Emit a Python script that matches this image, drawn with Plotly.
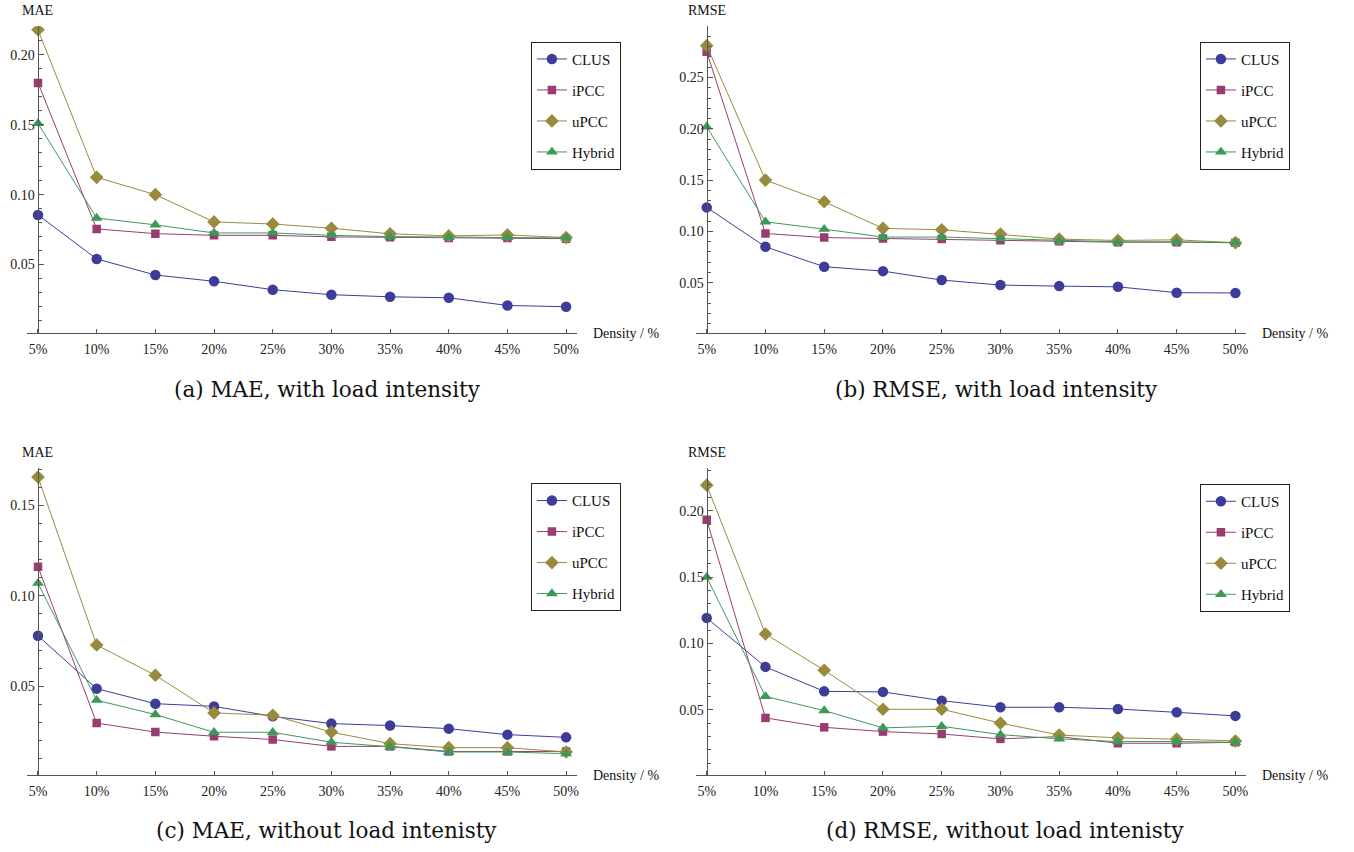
import plotly.graph_objects as go

# ---------------- data ----------------
density = [5, 10, 15, 20, 25, 30, 35, 40, 45, 50]
density_labels = ["5%", "10%", "15%", "20%", "25%", "30%", "35%", "40%", "45%", "50%"]
series_names = ["CLUS", "iPCC", "uPCC", "Hybrid"]

# (a) MAE, with load intensity
a_clus = [0.0855, 0.054, 0.0425, 0.038, 0.032, 0.0284, 0.0269, 0.0262, 0.0207, 0.0198]
a_ipcc = [0.180, 0.0755, 0.0721, 0.0709, 0.0709, 0.0698, 0.0695, 0.0690, 0.0690, 0.0685]
a_upcc = [0.218, 0.1124, 0.100, 0.0805, 0.079, 0.076, 0.072, 0.0705, 0.0712, 0.0693]
a_hyb = [0.151, 0.0833, 0.0784, 0.0726, 0.0726, 0.0709, 0.0700, 0.0695, 0.0695, 0.0690]

# (b) RMSE, with load intensity
b_clus = [0.1234, 0.085, 0.0656, 0.0613, 0.0526, 0.0477, 0.0467, 0.046, 0.0403, 0.040]
b_ipcc = [0.275, 0.098, 0.094, 0.0932, 0.0925, 0.0915, 0.0905, 0.0895, 0.0895, 0.089]
b_upcc = [0.281, 0.150, 0.1289, 0.103, 0.1016, 0.0974, 0.0925, 0.0912, 0.0918, 0.089]
b_hyb = [0.202, 0.1094, 0.1022, 0.0945, 0.0945, 0.093, 0.0908, 0.0898, 0.0898, 0.089]

# (c) MAE, without load intensity
c_clus = [0.0779, 0.0487, 0.0404, 0.0389, 0.0334, 0.0294, 0.0283, 0.0266, 0.0233, 0.0218]
c_ipcc = [0.116, 0.0297, 0.0247, 0.0224, 0.0206, 0.0168, 0.0168, 0.0140, 0.0140, 0.0140]
c_upcc = [0.1656, 0.0728, 0.0561, 0.0353, 0.034, 0.0247, 0.0183, 0.0161, 0.0161, 0.0137]
c_hyb = [0.107, 0.0423, 0.0344, 0.0246, 0.0246, 0.0191, 0.0166, 0.0137, 0.0137, 0.0128]

# (d) RMSE, without load intensity
d_clus = [0.1193, 0.0824, 0.064, 0.0636, 0.057, 0.052, 0.052, 0.0507, 0.0482, 0.0455]
d_ipcc = [0.1932, 0.044, 0.0369, 0.0337, 0.0319, 0.0282, 0.0299, 0.0249, 0.0249, 0.0256]
d_upcc = [0.2193, 0.1072, 0.0799, 0.0505, 0.0505, 0.0401, 0.0311, 0.029, 0.028, 0.0266]
d_hyb = [0.150, 0.0602, 0.0495, 0.0365, 0.0377, 0.0314, 0.0282, 0.0262, 0.0262, 0.0256]

panel_data = [
    [a_clus, a_ipcc, a_upcc, a_hyb],
    [b_clus, b_ipcc, b_upcc, b_hyb],
    [c_clus, c_ipcc, c_upcc, c_hyb],
    [d_clus, d_ipcc, d_upcc, d_hyb],
]
y_titles = ["MAE", "RMSE", "MAE", "RMSE"]
captions = [
    "(a) MAE, with load intensity",
    "(b) RMSE, with load intensity",
    "(c) MAE, without load intenisty",
    "(d) RMSE, without load intenisty",
]

# ---------------- styles ----------------
W, H = 1354, 852
colors = ["#3D3D99", "#993D71", "#998B3D", "#3D9958"]
symbols = ["circle", "square", "diamond", "triangle-up"]
msizes = [10.5, 8.5, 10.5, 10.5]
FONT = "Liberation Serif, Times New Roman, Times, serif"
CAP_FONT = "DejaVu Serif, serif"
AX = "#555555"


def px(v):
    return v / W


def py(v):
    return 1 - v / H


# pixel layout (screen coords) per panel: (x_left, x_right, yaxis_x, y_top, y_bottom, y_max)
panels = [
    (27.0, 578.0, 37.7, 26.3, 333.0, 0.2205),
    (696.7, 1248.3, 707.7, 26.3, 333.0, 0.2999),
    (27.0, 578.0, 37.7, 468.0, 775.0, 0.1706),
    (696.7, 1248.3, 707.7, 468.0, 775.0, 0.2322),
]
legend_pos = [(531.7, 41.7), (1201.7, 41.7), (531.7, 483.3), (1201.7, 484.0)]
caption_pos = [(328, 389), (998, 389), (327, 830), (1006, 830)]

fig = go.Figure()
layout = dict(
    width=W, height=H,
    margin=dict(l=0, r=0, t=0, b=0),
    paper_bgcolor="white", plot_bgcolor="white",
    font=dict(family=FONT, size=14, color="#222222"),
    annotations=[],
)

for p in range(4):
    sfx = "" if p == 0 else str(p + 1)
    xl, xr, yx, yt, yb, ymax = panels[p]
    legname = "legend" + sfx
    for s in range(4):
        fig.add_trace(go.Scatter(
            x=density, y=panel_data[p][s],
            mode="lines+markers",
            name=series_names[s],
            line=dict(color=colors[s], width=1),
            marker=dict(symbol=symbols[s], size=msizes[s], color=colors[s]),
            xaxis="x" + sfx, yaxis="y" + sfx,
            legend=legname,
            legendgroup=f"p{p}_{s}",
            showlegend=True,
        ))
    layout["xaxis" + sfx] = dict(
        domain=[px(xl), px(xr)], range=[4.06, 50.94], anchor="y" + sfx,
        tickmode="array", tickvals=density, ticktext=density_labels,
        ticks="inside", ticklen=4, tickcolor=AX, tickwidth=1,
        showline=True, linecolor=AX, linewidth=1,
        showgrid=False, zeroline=False, fixedrange=True,
        tickfont=dict(family=FONT, size=14, color="#222222"),
        ticklabelstandoff=3,
    )
    layout["yaxis" + sfx] = dict(
        domain=[py(yb), py(yt)], range=[0.001, ymax],
        anchor="free", position=px(yx),
        tick0=0, dtick=0.05, tickformat=".2f",
        ticks="inside", ticklen=5, tickcolor=AX, tickwidth=1,
        minor=dict(tick0=0, dtick=0.01, ticks="inside", ticklen=3, tickcolor=AX, showgrid=False),
        showline=True, linecolor=AX, linewidth=1,
        showgrid=False, zeroline=False, fixedrange=True,
        tickfont=dict(family=FONT, size=14, color="#222222"),
    )
    lx, ly = legend_pos[p]
    layout[legname] = dict(
        x=px(lx), y=py(ly), xanchor="left", yanchor="top",
        bordercolor="#222222", borderwidth=1, bgcolor="white",
        font=dict(family=FONT, size=15, color="#111111"),
        traceorder="grouped", tracegroupgap=8.5, itemwidth=30,
    )
    layout["annotations"].append(dict(
        text=y_titles[p], x=px(yx), y=py(yt - 16), xref="paper", yref="paper",
        xanchor="center", yanchor="middle", showarrow=False,
        font=dict(family=FONT, size=14, color="#111111"),
    ))
    layout["annotations"].append(dict(
        text="Density / %", x=px(xr + 14), y=py(yb), xref="paper", yref="paper",
        xanchor="left", yanchor="middle", showarrow=False,
        font=dict(family=FONT, size=14, color="#111111"),
    ))
    cx, cy = caption_pos[p]
    layout["annotations"].append(dict(
        text=captions[p], x=px(cx), y=py(cy), xref="paper", yref="paper",
        xanchor="center", yanchor="middle", showarrow=False,
        font=dict(family=CAP_FONT, size=21.5, color="#111111"),
    ))

fig.update_layout(**layout)
fig.write_html(
    "out.html",
    config={"displayModeBar": False, "staticPlot": True},
    post_script="document.body.style.margin='0';document.body.style.overflow='hidden';",
)
